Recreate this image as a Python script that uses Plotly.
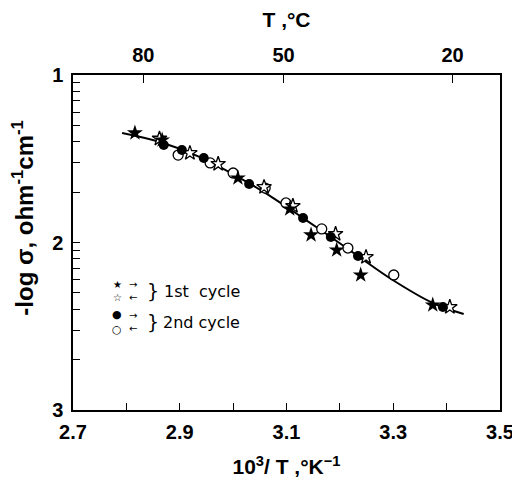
import numpy as np
import plotly.graph_objects as go

# 1st cycle, heating (filled stars)
c1_up_x = [2.816, 2.867, 3.009, 3.106, 3.146, 3.194, 3.239, 3.374]
c1_up_y = [1.346, 1.388, 1.615, 1.800, 1.955, 2.045, 2.194, 2.373]
# 1st cycle, cooling (open stars)
c1_dn_x = [2.862, 2.919, 2.972, 3.058, 3.112, 3.192, 3.249, 3.406]
c1_dn_y = [1.380, 1.466, 1.531, 1.669, 1.782, 1.949, 2.087, 2.385]
# 2nd cycle, heating (filled circles)
c2_up_x = [2.870, 2.904, 2.945, 3.030, 3.131, 3.183, 3.234, 3.393]
c2_up_y = [1.418, 1.448, 1.496, 1.651, 1.854, 1.967, 2.081, 2.385]
# 2nd cycle, cooling (open circles)
c2_dn_x = [2.897, 2.957, 3.000, 3.060, 3.099, 3.166, 3.215, 3.301]
c2_dn_y = [1.478, 1.525, 1.585, 1.675, 1.764, 1.919, 2.033, 2.194]
# fitted curve
fit_x = [2.792, 2.863, 2.938, 3.013, 3.060, 3.131, 3.183, 3.234, 3.299, 3.374, 3.432]
fit_y = [1.346, 1.400, 1.490, 1.615, 1.704, 1.854, 1.967, 2.081, 2.224, 2.361, 2.427]

x_major = [2.7, 2.9, 3.1, 3.3, 3.5]
y_major = [1, 2, 3]
top_T = [80, 50, 20]

top_vals = [1000.0 / (t + 273.15) for t in top_T]
y_minor = [d - np.log10(k) for d in (2, 3) for k in range(2, 10)]

FONT = "Liberation Sans"
fig = go.Figure()

fig.add_trace(go.Scatter(x=fit_x, y=fit_y, mode="lines", line=dict(color="black", width=2, shape="spline"),
                         showlegend=False, hoverinfo="skip"))
fig.add_trace(go.Scatter(x=c2_dn_x, y=c2_dn_y, mode="markers",
                         marker=dict(symbol="circle", size=10, color="white", line=dict(color="black", width=1.3)),
                         showlegend=False))
fig.add_trace(go.Scatter(x=c1_dn_x, y=c1_dn_y, mode="markers",
                         marker=dict(symbol="star", size=11, color="white", line=dict(color="black", width=1.3)),
                         showlegend=False))
fig.add_trace(go.Scatter(x=c2_up_x, y=c2_up_y, mode="markers",
                         marker=dict(symbol="circle", size=10, color="black", line=dict(width=0)),
                         showlegend=False))
fig.add_trace(go.Scatter(x=c1_up_x, y=c1_up_y, mode="markers",
                         marker=dict(symbol="star", size=12, color="black", line=dict(width=0)),
                         showlegend=False))
# invisible trace for top axis
fig.add_trace(go.Scatter(x=top_vals, y=[None] * len(top_vals), xaxis="x2", mode="markers",
                         marker=dict(opacity=0), showlegend=False, hoverinfo="skip"))

tickfont = dict(family=FONT, size=20, color="black")
fig.update_layout(
    width=512, height=477,
    margin=dict(l=65, r=20, t=67, b=75),
    paper_bgcolor="white", plot_bgcolor="white",
    font=dict(family=FONT, color="black"),
    xaxis=dict(range=[2.7, 3.5], tickvals=x_major, ticktext=[f"<b>{v:.1f}</b>" for v in x_major],
               ticks="inside", ticklen=7, tickwidth=1.2, tickcolor="black", ticklabelstandoff=3,
               minor=dict(dtick=0.1, tick0=2.7, ticks="inside", ticklen=7, tickwidth=1.2, tickcolor="black"),
               showline=True, linecolor="black", linewidth=1.5, mirror=False, automargin=False,
               showgrid=False, zeroline=False, tickfont=tickfont,
               title=dict(text="<b>10<sup>3</sup>/ T ,°K<sup>−1</sup></b>", font=dict(family=FONT, size=21), standoff=18)),
    xaxis2=dict(range=[2.7, 3.5], overlaying="x", side="top", tickvals=top_vals,
                ticktext=[f"<b>{t}</b>" for t in top_T], automargin=False,
                ticks="inside", ticklen=8, tickwidth=1.2, tickcolor="black", ticklabelstandoff=3,
                showline=True, linecolor="black", linewidth=1.5,
                showgrid=False, zeroline=False, tickfont=tickfont,
                title=dict(text="<b>T ,°C</b>", font=dict(family=FONT, size=21), standoff=12)),
    yaxis=dict(range=[3, 1], tickvals=y_major, ticktext=[f"<b>{v}</b>" for v in y_major],
               ticks="inside", ticklen=7, tickwidth=1.2, tickcolor="black", automargin=False,
               ticklabelstandoff=4,
               minor=dict(tickmode="array", tickvals=y_minor, ticks="inside", ticklen=7, tickwidth=1.2, tickcolor="black"),
               showline=True, linecolor="black", linewidth=1.5, mirror=True,
               showgrid=False, zeroline=False, tickfont=tickfont),
)

# y-axis title (placed like the original, slightly above centre)
fig.add_annotation(x=-0.118, y=0.573, xref="paper", yref="paper", textangle=-90, showarrow=False,
                   xanchor="center", yanchor="middle",
                   text="<b>-log σ, ohm<sup>-1</sup>cm<sup>-1</sup></b>",
                   font=dict(family=FONT, size=24, color="black"))

# legend key (hand-drawn style): two rows per cycle, split at a shared y
legend_groups = [(("★", "☆"), 2.29, "1st  cycle", 2.868, 10),
                 (("●", "○"), 2.475, "2nd cycle", 2.866, 11)]
for (s_hi, s_lo), ysplit, label, xlab, fs in legend_groups:
    for sym, arr, anchor in ((s_hi, "→", "bottom"), (s_lo, "←", "top")):
        fig.add_annotation(x=2.793, y=ysplit, xref="x", yref="y", text=sym, showarrow=False,
                           xanchor="right", yanchor=anchor, borderpad=0,
                           font=dict(family="DejaVu Sans", size=fs, color="black"))
        fig.add_annotation(x=2.803, y=ysplit, xref="x", yref="y", text=arr, showarrow=False,
                           xanchor="left", yanchor=anchor, borderpad=0,
                           font=dict(family="DejaVu Sans", size=10, color="black"))
    fig.add_annotation(x=2.836, y=ysplit, xref="x", yref="y", text="}", showarrow=False,
                       xanchor="left", borderpad=0,
                       font=dict(family="DejaVu Sans", size=19, color="black"))
    fig.add_annotation(x=xlab, y=ysplit, xref="x", yref="y", text=label, showarrow=False,
                       xanchor="left", borderpad=0,
                       font=dict(family="DejaVu Sans", size=16, color="black"))

fig.write_html("out.html")
